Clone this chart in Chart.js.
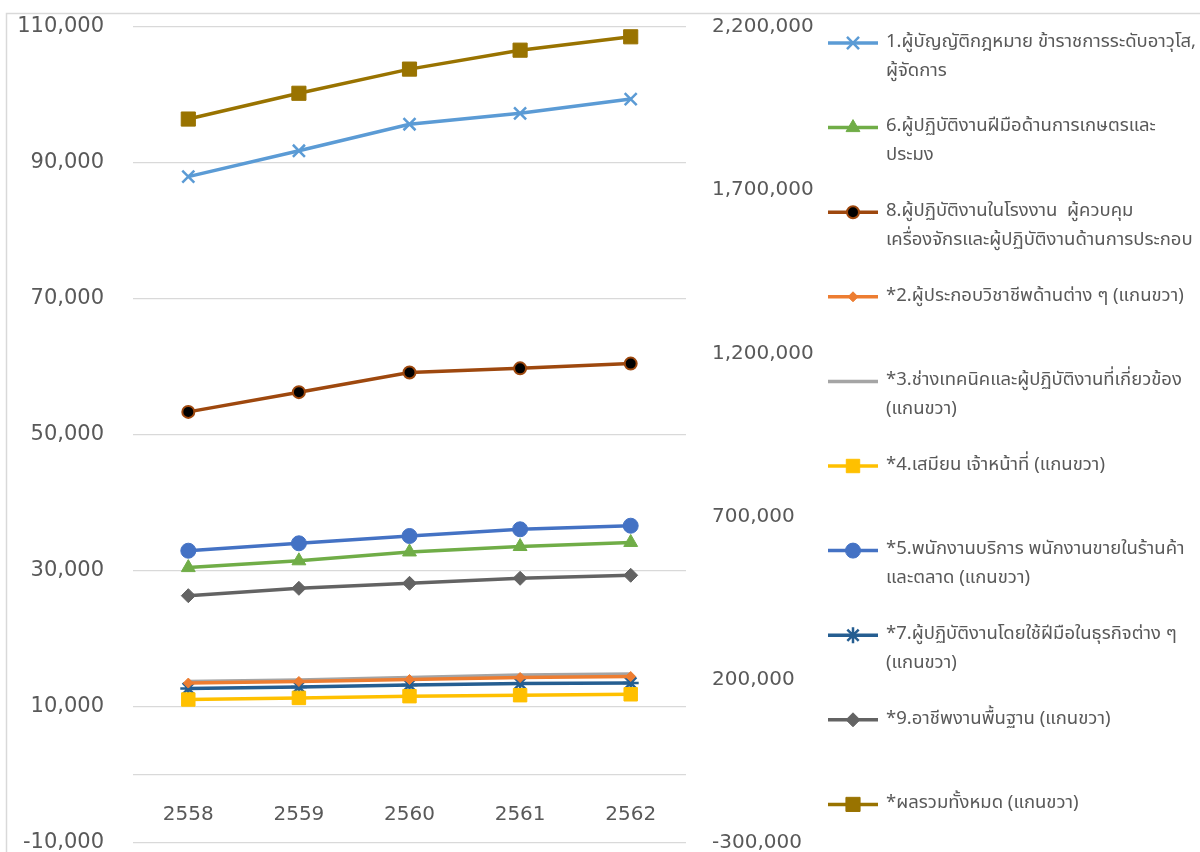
<!DOCTYPE html>
<html>
<head>
<meta charset="utf-8">
<script src="https://cdn.jsdelivr.net/npm/chart.js@4/dist/chart.umd.min.js"></script>
<style>
  html, body { margin: 0; padding: 0; background: #fff; overflow: hidden; }
  #wrap { position: relative; width: 1200px; height: 900px; }
</style>
</head>
<body>
<div id="wrap"><canvas id="chart"></canvas></div>
<script>
// categories (Buddhist years)
const years = ['2558', '2559', '2560', '2561', '2562'];

// left axis series
const occ1 = [88000, 91800, 95700, 97300, 99400];
const occ6 = [30500, 31500, 32800, 33600, 34200];
const occ8 = [53400, 56300, 59200, 59800, 60500];

// right axis series
const occ2 = [190000, 194800, 200900, 207000, 210100];
const occ3 = [194800, 199400, 207000, 214700, 217800];
const occ4 = [139600, 144500, 149800, 152900, 155600];
const occ5 = [595500, 618200, 640600, 661100, 672100];
const occ7 = [173300, 177900, 184000, 188700, 190200];
const occ9 = [457700, 480300, 495600, 511000, 520200];
const total = [1918000, 1997000, 2071000, 2129000, 2170000];

// tick values
const leftTicks = [-10000, 10000, 30000, 50000, 70000, 90000, 110000];
const rightTicks = [-300000, 200000, 700000, 1200000, 1700000, 2200000];

// legend texts (wrapped like the original)
const labels = [
    ['1.ผู้บัญญัติกฎหมาย ข้าราชการระดับอาวุโส,', 'ผู้จัดการ'],
    ['6.ผู้ปฏิบัติงานฝีมือด้านการเกษตรและ', 'ประมง'],
    ['8.ผู้ปฏิบัติงานในโรงงาน  ผู้ควบคุม', 'เครื่องจักรและผู้ปฏิบัติงานด้านการประกอบ'],
    ['*2.ผู้ประกอบวิชาชีพด้านต่าง ๆ (แกนขวา)'],
    ['*3.ช่างเทคนิคและผู้ปฏิบัติงานที่เกี่ยวข้อง', '(แกนขวา)'],
    ['*4.เสมียน เจ้าหน้าที่ (แกนขวา)'],
    ['*5.พนักงานบริการ พนักงานขายในร้านค้า', 'และตลาด (แกนขวา)'],
    ['*7.ผู้ปฏิบัติงานโดยใช้ฝีมือในธุรกิจต่าง ๆ', '(แกนขวา)'],
    ['*9.อาชีพงานพื้นฐาน (แกนขวา)'],
    ['*ผลรวมทั้งหมด (แกนขวา)']
];

const textColor = '#595959';
const gridColor = '#d9d9d9';
const numFont = { family: "'DejaVu Sans', sans-serif", size: 20 };
const leftFont = { family: "'DejaVu Sans', sans-serif", size: 21 };
const thaiFont = "18.5px 'Noto Sans Thai', 'Leelawadee UI', Tahoma, 'Noto Sans', sans-serif";

function series(label, data, axis, color, style, radius, extra) {
    return Object.assign({
        label: label.join(' '),
        data: data,
        yAxisID: axis,
        borderColor: color,
        backgroundColor: color,
        borderWidth: 3.5,
        pointStyle: style,
        pointRadius: radius,
        pointBackgroundColor: color,
        pointBorderColor: color,
        pointBorderWidth: 1,
        tension: 0
    }, extra || {});
}

const datasets = [
    series(labels[0], occ1, 'y', '#5B9BD5', 'crossRot', 8.5, { pointBorderWidth: 2.5 }),
    series(labels[1], occ6, 'y', '#70AD47', 'triangle', 8),
    series(labels[2], occ8, 'y', '#9E480E', 'circle', 6, { pointBackgroundColor: '#000', pointBorderWidth: 2 }),
    series(labels[3], occ2, 'y1', '#ED7D31', 'rectRot', 5),
    series(labels[4], occ3, 'y1', '#A5A5A5', 'circle', 0),
    series(labels[5], occ4, 'y1', '#FFC000', 'rect', 9.5),
    series(labels[6], occ5, 'y1', '#4472C4', 'circle', 7.5),
    series(labels[7], occ7, 'y1', '#255E91', 'star', 8, { pointBorderWidth: 2.5 }),
    series(labels[8], occ9, 'y1', '#636363', 'rectRot', 7),
    series(labels[9], total, 'y1', '#997300', 'rect', 10)
];

// outer frame like the spreadsheet chart box
const framePlugin = {
    id: 'frame',
    beforeDraw(chart) {
        const ctx = chart.ctx;
        ctx.save();
        ctx.strokeStyle = gridColor;
        ctx.lineWidth = 1.5;
        ctx.strokeRect(6.5, 13.5, 1300, 1000);
        ctx.restore();
    }
};

// legend on the right, evenly spaced rows, line + marker glyph
const sideLegend = {
    id: 'sideLegend',
    afterDraw(chart) {
        const ctx = chart.ctx;
        ctx.save();
        chart.data.datasets.forEach((ds, i) => {
            const y = 43 + i * 84.6;
            ctx.strokeStyle = ds.borderColor;
            ctx.lineWidth = ds.borderWidth;
            ctx.beginPath();
            ctx.moveTo(828, y);
            ctx.lineTo(878, y);
            ctx.stroke();
            if (ds.pointRadius > 0) {
                ctx.fillStyle = ds.pointBackgroundColor;
                ctx.strokeStyle = ds.pointBorderColor;
                ctx.lineWidth = ds.pointBorderWidth;
                Chart.helpers.drawPoint(ctx, {
                    pointStyle: ds.pointStyle,
                    radius: ds.pointRadius,
                    borderWidth: ds.pointBorderWidth,
                    rotation: 0
                }, 853, y);
            }
            ctx.fillStyle = textColor;
            ctx.font = thaiFont;
            ctx.textBaseline = 'middle';
            ctx.textAlign = 'left';
            labels[i].forEach((line, j) => ctx.fillText(line, 886, y + j * 29));
        });
        ctx.restore();
    }
};

const fmt = v => v.toLocaleString('en-US');
const hidden = 'rgba(0,0,0,0)';

new Chart(document.getElementById('chart'), {
    type: 'line',
    data: { labels: years, datasets: datasets },
    options: {
        responsive: true,
        maintainAspectRatio: false,
        animation: false,
        devicePixelRatio: 1,
        layout: { padding: { left: 0, right: 384, top: 27, bottom: 57 } },
        plugins: {
            legend: { display: false },
            tooltip: { enabled: false }
        },
        scales: {
            x: {
                offset: true,
                grid: { display: false },
                border: { display: false },
                ticks: { mirror: true, padding: 16, color: textColor, font: numFont },
                afterFit(scale) { scale.height = 0; }
            },
            y: {
                position: 'left',
                min: leftTicks[0],
                max: leftTicks[leftTicks.length - 1],
                grid: { color: gridColor, lineWidth: 1.3, tickLength: 24, tickColor: hidden },
                border: { display: false },
                ticks: {
                    padding: 5,
                    color: textColor,
                    font: leftFont,
                    callback: v => (v === 0 ? '' : fmt(v))
                },
                // the zero line (category axis) is drawn as an extra grid line
                afterBuildTicks(scale) {
                    scale.ticks = leftTicks.concat([0]).sort((a, b) => a - b).map(v => ({ value: v }));
                },
                afterFit(scale) { scale.width = 133; }
            },
            y1: {
                position: 'right',
                min: rightTicks[0],
                max: rightTicks[rightTicks.length - 1],
                grid: { drawOnChartArea: false, tickLength: 21, tickColor: hidden },
                border: { display: false },
                ticks: { padding: 5, color: textColor, font: numFont, callback: v => fmt(v) },
                afterBuildTicks(scale) {
                    scale.ticks = rightTicks.map(v => ({ value: v }));
                },
                afterFit(scale) { scale.width = 130; }
            }
        }
    },
    plugins: [framePlugin, sideLegend]
});
</script>
</body>
</html>
